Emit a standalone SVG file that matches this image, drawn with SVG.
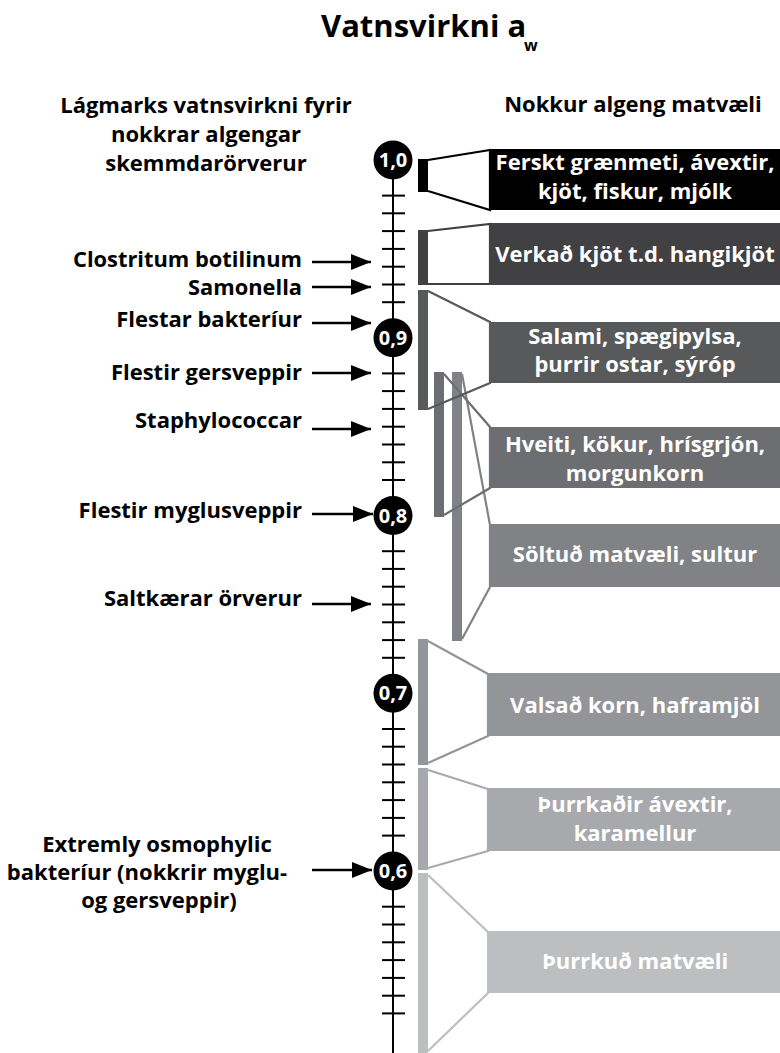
<svg xmlns="http://www.w3.org/2000/svg" width="780" height="1053" viewBox="0 0 780 1053">
<style>
  text { font-family: "Open Sans", "Noto Sans", "Liberation Sans", sans-serif; font-weight: 700; }
  .title { font-size: 31px; fill: #000; }
  .sub { font-size: 16px; fill: #000; }
  .head { font-size: 22px; fill: #000; text-anchor: middle; }
  .lbl { font-size: 22px; fill: #000; text-anchor: end; }
  .lbls { font-size: 21px; fill: #000; text-anchor: end; }
  .lblc { font-size: 22px; fill: #000; text-anchor: middle; }
  .box { font-size: 22px; fill: #fff; text-anchor: middle; }
  .num { font-size: 20px; fill: #fff; text-anchor: middle; }
  .axis { stroke: #000; stroke-width: 2; fill: none; }
  .tick { stroke: #000; stroke-width: 2; }
  .arrow { stroke: #000; stroke-width: 2.4; fill: none; marker-end: url(#ah); }
  .fun { fill: none; stroke-width: 2.2; stroke-linejoin: miter; }
</style>
<defs>
  <marker id="ah" markerUnits="userSpaceOnUse" markerWidth="20" markerHeight="16" refX="20" refY="8" orient="auto" viewBox="0 0 20 16">
    <path d="M0,0 L20,8 L0,16 Z" fill="#000"/>
  </marker>
</defs>
<rect x="0" y="0" width="780" height="1053" fill="#fff"/>

<g id="title">
  <text class="title" x="321" y="37">Vatnsvirkni a</text>
  <text class="sub" x="524" y="51">w</text>
</g>
<g id="header-left">
  <text class="head" x="206" y="113">Lágmarks vatnsvirkni fyrir</text>
  <text class="head" x="206" y="142">nokkrar algengar</text>
  <text class="head" x="206" y="171">skemmdarörverur</text>
</g>
<g id="header-right">
  <text class="head" x="633" y="112">Nokkur algeng matvæli</text>
</g>

<g id="axis">
  <line class="axis" x1="393" y1="160" x2="393" y2="1053"/>
  <g class="tick">
    <line x1="382" x2="405" y1="195.6" y2="195.6"/><line x1="382" x2="405" y1="213.3" y2="213.3"/><line x1="382" x2="405" y1="231.1" y2="231.1"/><line x1="382" x2="405" y1="248.9" y2="248.9"/><line x1="382" x2="405" y1="266.7" y2="266.7"/><line x1="382" x2="405" y1="284.5" y2="284.5"/><line x1="382" x2="405" y1="302.2" y2="302.2"/>
    <line x1="382" x2="405" y1="373.4" y2="373.4"/><line x1="382" x2="405" y1="391.1" y2="391.1"/><line x1="382" x2="405" y1="408.9" y2="408.9"/><line x1="382" x2="405" y1="426.7" y2="426.7"/><line x1="382" x2="405" y1="444.5" y2="444.5"/><line x1="382" x2="405" y1="462.3" y2="462.3"/><line x1="382" x2="405" y1="480.0" y2="480.0"/>
    <line x1="382" x2="405" y1="551.2" y2="551.2"/><line x1="382" x2="405" y1="568.9" y2="568.9"/><line x1="382" x2="405" y1="586.7" y2="586.7"/><line x1="382" x2="405" y1="604.5" y2="604.5"/><line x1="382" x2="405" y1="622.3" y2="622.3"/><line x1="382" x2="405" y1="640.1" y2="640.1"/><line x1="382" x2="405" y1="657.8" y2="657.8"/>
    <line x1="382" x2="405" y1="729.0" y2="729.0"/><line x1="382" x2="405" y1="746.7" y2="746.7"/><line x1="382" x2="405" y1="764.5" y2="764.5"/><line x1="382" x2="405" y1="782.3" y2="782.3"/><line x1="382" x2="405" y1="800.1" y2="800.1"/><line x1="382" x2="405" y1="817.9" y2="817.9"/><line x1="382" x2="405" y1="835.6" y2="835.6"/>
    <line x1="382" x2="405" y1="906.7" y2="906.7"/><line x1="382" x2="405" y1="924.5" y2="924.5"/><line x1="382" x2="405" y1="942.3" y2="942.3"/><line x1="382" x2="405" y1="960.1" y2="960.1"/><line x1="382" x2="405" y1="977.9" y2="977.9"/><line x1="382" x2="405" y1="995.7" y2="995.7"/><line x1="382" x2="405" y1="1013.4" y2="1013.4"/>
  </g>
</g>

<g id="connectors">
  <line class="arrow" x1="312" y1="262" x2="371" y2="262"/>
  <line class="arrow" x1="312" y1="287" x2="371" y2="287"/>
  <line class="arrow" x1="312" y1="323" x2="371" y2="323"/>
  <line class="arrow" x1="312" y1="373" x2="371" y2="373"/>
  <line class="arrow" x1="312" y1="429" x2="371" y2="429"/>
  <line class="arrow" x1="312" y1="514" x2="373" y2="514"/>
  <line class="arrow" x1="312" y1="604" x2="371" y2="604"/>
  <line class="arrow" x1="312" y1="870" x2="372" y2="870"/>
</g>

<g id="scale-marks">
  <g id="m10"><circle cx="393" cy="160" r="19.5" fill="#000"/><text class="num" x="393" y="167">1,0</text></g>
  <g id="m09"><circle cx="393" cy="337.8" r="19.5" fill="#000"/><text class="num" x="393" y="344.8">0,9</text></g>
  <g id="m08"><circle cx="393" cy="515.6" r="19.5" fill="#000"/><text class="num" x="393" y="522.6">0,8</text></g>
  <g id="m07"><circle cx="393" cy="693.3" r="19.5" fill="#000"/><text class="num" x="393" y="700.3">0,7</text></g>
  <g id="m06"><circle cx="393" cy="871.1" r="19.5" fill="#000"/><text class="num" x="393" y="878.1">0,6</text></g>
</g>

<g id="org-clostridium"><text class="lbls" x="302" y="266.5" textLength="229" lengthAdjust="spacingAndGlyphs">Clostritum botilinum</text></g>
<g id="org-salmonella"><text class="lbls" x="302" y="295" textLength="114" lengthAdjust="spacingAndGlyphs">Samonella</text></g>
<g id="org-bakteriur"><text class="lbl" x="302" y="327">Flestar bakteríur</text></g>
<g id="org-gersveppir"><text class="lbl" x="302" y="380">Flestir gersveppir</text></g>
<g id="org-staph"><text class="lbl" x="302" y="428">Staphylococcar</text></g>
<g id="org-mygla"><text class="lbl" x="302" y="518">Flestir myglusveppir</text></g>
<g id="org-salt"><text class="lbl" x="302" y="606">Saltkærar örverur</text></g>
<g id="org-osmo">
  <text class="lblc" x="157" y="852">Extremly osmophylic</text>
  <text class="lblc" x="147" y="880">bakteríur (nokkrir myglu-</text>
  <text class="lblc" x="159" y="908">og gersveppir)</text>
</g>

<g id="food1">
  <polyline class="fun" stroke="#000" points="428,160 490,150 490,210 428,191"/>
  <rect x="418" y="159" width="10" height="33" fill="#000"/>
  <rect x="490" y="149" width="290" height="61" fill="#000"/>
  <text class="box" x="635" y="170">Ferskt grænmeti, ávextir,</text>
  <text class="box" x="635" y="199">kjöt, fiskur, mjólk</text>
</g>
<g id="food2">
  <polyline class="fun" stroke="#414042" points="428,231 490,224 490,284 428,284"/>
  <rect x="418" y="230" width="10" height="55" fill="#414042"/>
  <rect x="490" y="223" width="290" height="62" fill="#414042"/>
  <text class="box" x="635" y="262">Verkað kjöt t.d. hangikjöt</text>
</g>
<g id="food5">
  <polyline class="fun" stroke="#808285" points="462,374 490,525 490,587 462,639"/>
  <rect x="452" y="372" width="10" height="269" fill="#808285"/>
  <rect x="490" y="524" width="290" height="63" fill="#808285"/>
  <text class="box" x="635" y="562">Söltuð matvæli, sultur</text>
</g>
<g id="food4">
  <polyline class="fun" stroke="#6d6e71" points="444,374 490,427 490,488 444,515"/>
  <rect x="434" y="372" width="10" height="145" fill="#6d6e71"/>
  <rect x="490" y="427" width="290" height="61" fill="#6d6e71"/>
  <text class="box" x="635" y="452">Hveiti, kökur, hrísgrjón,</text>
  <text class="box" x="635" y="481">morgunkorn</text>
</g>
<g id="food3">
  <polyline class="fun" stroke="#58595b" points="428,291 490,322 490,383 428,409"/>
  <rect x="418" y="290" width="10" height="120" fill="#58595b"/>
  <rect x="490" y="322" width="290" height="61" fill="#58595b"/>
  <text class="box" x="635" y="344">Salami, spægipylsa,</text>
  <text class="box" x="635" y="372">þurrir ostar, sýróp</text>
</g>
<g id="food6">
  <polyline class="fun" stroke="#939598" points="428,641 488,674 488,736 428,763"/>
  <rect x="418" y="639" width="10" height="126" fill="#939598"/>
  <rect x="488" y="673" width="292" height="63" fill="#939598"/>
  <text class="box" x="635" y="713">Valsað korn, haframjöl</text>
</g>
<g id="food7">
  <polyline class="fun" stroke="#a7a9ac" points="428,770 488,789 488,851 428,868"/>
  <rect x="418" y="768" width="10" height="102" fill="#a7a9ac"/>
  <rect x="488" y="788" width="292" height="63" fill="#a7a9ac"/>
  <text class="box" x="635" y="812">Þurrkaðir ávextir,</text>
  <text class="box" x="635" y="841">karamellur</text>
</g>
<g id="food8">
  <polyline class="fun" stroke="#bcbec0" points="428,875 488,932 488,993 428,1051"/>
  <rect x="418" y="873" width="10" height="180" fill="#bcbec0"/>
  <rect x="488" y="931" width="292" height="62" fill="#bcbec0"/>
  <text class="box" x="635" y="969">Þurrkuð matvæli</text>
</g>
</svg>
